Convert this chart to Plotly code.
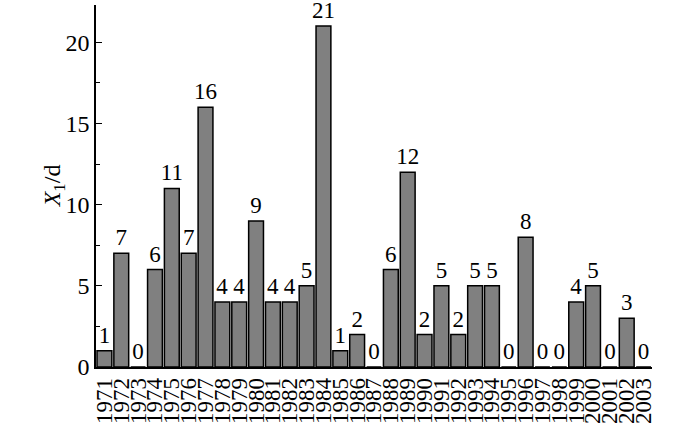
import plotly.graph_objects as go

years = [str(y) for y in range(1971, 2004)]
values = [1, 7, 0, 6, 11, 7, 16, 4, 4, 9, 4, 4, 5, 21, 1, 2, 0, 6, 12, 2, 5, 2, 5, 5, 0, 8, 0, 0, 4, 5, 0, 3, 0]
y_ticks = [0, 5, 10, 15, 20]

font = "Liberation Serif"

fig = go.Figure(go.Bar(
    x=years, y=values,
    text=[str(v) for v in values],
    textposition="outside",
    constraintext="none",
    textfont=dict(family=font, size=23, color="black"),
    cliponaxis=False,
    marker=dict(color="#808080", line=dict(color="black", width=1.5)),
    width=0.88,
))

fig.update_layout(
    width=700, height=424,
    margin=dict(l=96, r=48, t=5, b=57, autoexpand=False),
    plot_bgcolor="white", paper_bgcolor="white",
    font=dict(family=font, size=23, color="black"),
    showlegend=False,
    annotations=[dict(
        text="<i>X</i><sub>1</sub>/d", textangle=-90, showarrow=False,
        xref="paper", yref="paper", x=-0.075, y=0.5, xanchor="center", yanchor="middle",
        font=dict(family=font, size=24, color="black"),
    )],
)
fig.update_xaxes(
    type="category", tickangle=-90, showline=True, linecolor="black", linewidth=1.5,
    ticks="", showgrid=False, tickfont=dict(family=font, size=23),
    tickmode="array", tickvals=years, ticktext=years,
    range=[-0.5, 32.5], automargin=False, ticklabelstandoff=0,
)
fig.update_yaxes(
    range=[0, 22.3], tickvals=y_ticks, showline=True, linecolor="black", linewidth=1.5,
    ticks="inside", ticklen=6, tickcolor="black", showgrid=False, zeroline=False,
    tickfont=dict(family=font, size=24), automargin=False,
    minor=dict(tickvals=[2.5, 7.5, 12.5, 17.5], ticks="inside", ticklen=4, tickcolor="black"),
)

fig.write_html("out.html", config={"displayModeBar": False},
               post_script="document.body.style.margin='0';")
